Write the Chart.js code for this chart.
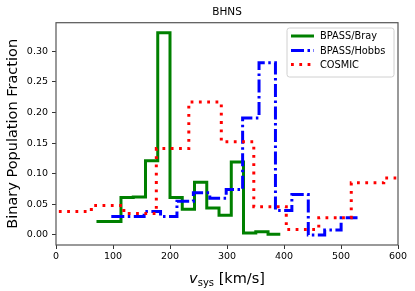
<!DOCTYPE html>
<html>
<head>
<meta charset="utf-8">
<script src="https://cdn.jsdelivr.net/npm/chart.js@4.4.0/dist/chart.umd.min.js"></script>
<style>
  html, body { margin: 0; padding: 0; background: #fff; }
  #wrap { width: 415px; height: 291px; }
</style>
</head>
<body>
<div id="wrap"><canvas id="chart" width="415" height="291"></canvas></div>
<script>
// histogram bin edges and heights
const braEdges = [71, 92.5, 114, 135.5, 157, 178.5, 200, 221.5, 243, 264.5, 286, 307.5, 329, 350.5, 372, 393.5];
const braValues = [0.022, 0.022, 0.061, 0.062, 0.121, 0.330, 0.061, 0.042, 0.086, 0.044, 0.032, 0.119, 0.003, 0.005, 0.001];

const hobbsEdges = [97, 125.8, 154.6, 183.4, 212.2, 241, 269.8, 298.6, 327.4, 356.2, 385, 413.8, 442.6, 471.4, 500.2, 529];
const hobbsValues = [0.030, 0.030, 0.038, 0.030, 0.055, 0.069, 0.060, 0.074, 0.191, 0.281, 0.040, 0.066, 0.000, 0.008, 0.028];

const cosmicEdges = [5, 62, 119, 176, 233, 290, 347, 404, 461, 518, 575, 597];
const cosmicValues = [0.038, 0.048, 0.035, 0.141, 0.217, 0.152, 0.046, 0.009, 0.028, 0.085, 0.093];

const xTicks = [0, 100, 200, 300, 400, 500, 600];
const yTicks = [0, 0.05, 0.10, 0.15, 0.20, 0.25, 0.30];

const FONT = "'DejaVu Sans', sans-serif";

function stepPoints(edges, values) {
  const pts = values.map((v, i) => ({ x: edges[i], y: v }));
  pts.push({ x: edges[edges.length - 1], y: values[values.length - 1] });
  return pts;
}

// title, x label, axes frame and legend drawn on top
const decorations = {
  id: 'decorations',
  afterDraw(chart) {
    const ctx = chart.ctx;
    const a = chart.chartArea;
    const cx = (a.left + a.right) / 2;
    ctx.save();

    // frame
    ctx.strokeStyle = '#555';
    ctx.lineWidth = 1.2;
    ctx.strokeRect(a.left, a.top, a.right - a.left, a.bottom - a.top);

    // title
    ctx.fillStyle = '#000';
    ctx.font = '10.5px ' + FONT;
    ctx.textAlign = 'center';
    ctx.textBaseline = 'middle';
    ctx.fillText('BHNS', cx, 12);

    // x label: v_sys [km/s]
    const big = '14.5px ' + FONT;
    const italic = 'oblique 14.5px ' + FONT;
    const small = '10px ' + FONT;
    ctx.textAlign = 'left';
    ctx.textBaseline = 'alphabetic';
    ctx.font = italic; const w1 = ctx.measureText('v').width;
    ctx.font = small; const w2 = ctx.measureText('sys').width;
    ctx.font = big; const w3 = ctx.measureText(' [km/s]').width;
    let x = cx - (w1 + w2 + w3) / 2;
    const base = 283;
    ctx.font = italic; ctx.fillText('v', x, base); x += w1;
    ctx.font = small; ctx.fillText('sys', x, base + 3); x += w2;
    ctx.font = big; ctx.fillText(' [km/s]', x, base);

    // legend
    const lx = 287, ly = 28, lw = 107, lh = 49;
    ctx.beginPath();
    ctx.roundRect(lx, ly, lw, lh, 2.5);
    ctx.fillStyle = 'rgba(255,255,255,0.8)';
    ctx.fill();
    ctx.strokeStyle = '#d0d0d0';
    ctx.lineWidth = 1;
    ctx.stroke();
    const rows = [36, 50.5, 64.5];
    ctx.font = '9.8px ' + FONT;
    ctx.textBaseline = 'middle';
    chart.data.datasets.forEach((ds, i) => {
      const y = rows[i];
      ctx.beginPath();
      ctx.setLineDash(ds.borderDash || []);
      ctx.strokeStyle = ds.borderColor;
      ctx.lineWidth = ds.borderWidth;
      ctx.lineCap = 'butt';
      ctx.moveTo(291, y);
      ctx.lineTo(314, y);
      ctx.stroke();
      ctx.setLineDash([]);
      ctx.fillStyle = '#000';
      ctx.fillText(ds.label, 320, y + 0.5);
    });
    ctx.restore();
  }
};

new Chart(document.getElementById('chart'), {
  type: 'line',
  data: {
    datasets: [
      {
        label: 'BPASS/Bray',
        data: stepPoints(braEdges, braValues),
        borderColor: '#008000',
        borderWidth: 3,
        order: 3
      },
      {
        label: 'BPASS/Hobbs',
        data: stepPoints(hobbsEdges, hobbsValues),
        borderColor: '#0000ff',
        borderWidth: 3,
        borderDash: [13, 3.5, 2.5, 3.5],
        order: 2
      },
      {
        label: 'COSMIC',
        data: stepPoints(cosmicEdges, cosmicValues),
        borderColor: '#ff0000',
        borderWidth: 3,
        borderDash: [2.8, 5.5],
        order: 1
      }
    ]
  },
  options: {
    responsive: false,
    animation: false,
    layout: { padding: { left: 0, right: 17, top: 22.7, bottom: 0 } },
    elements: {
      line: { stepped: true, fill: false, tension: 0, borderCapStyle: 'butt', borderJoinStyle: 'miter' },
      point: { radius: 0, hoverRadius: 0 }
    },
    plugins: {
      legend: { display: false },
      title: { display: false },
      tooltip: { enabled: false }
    },
    scales: {
      x: {
        type: 'linear',
        min: 0,
        max: 600,
        afterBuildTicks: (s) => { s.ticks = xTicks.map(v => ({ value: v })); },
        afterFit: (s) => { s.height = 46; },
        grid: { drawOnChartArea: false, drawTicks: true, tickLength: 4, tickColor: '#333' },
        border: { display: false },
        ticks: { color: '#000', padding: 2, maxRotation: 0, font: { family: FONT, size: 9.5 } }
      },
      y: {
        type: 'linear',
        min: -0.0165,
        max: 0.3465,
        afterBuildTicks: (s) => { s.ticks = yTicks.map(v => ({ value: v })); },
        afterFit: (s) => { s.width = 56; },
        grid: { drawOnChartArea: false, drawTicks: true, tickLength: 4, tickColor: '#333' },
        border: { display: false },
        ticks: {
          color: '#000',
          padding: 4,
          font: { family: FONT, size: 9.5 },
          callback: (v) => v.toFixed(2)
        },
        title: {
          display: true,
          text: 'Binary Population Fraction',
          color: '#000',
          padding: { top: 5, bottom: 2 },
          font: { family: FONT, size: 14.5 }
        }
      }
    }
  },
  plugins: [decorations]
});
</script>
</body>
</html>
